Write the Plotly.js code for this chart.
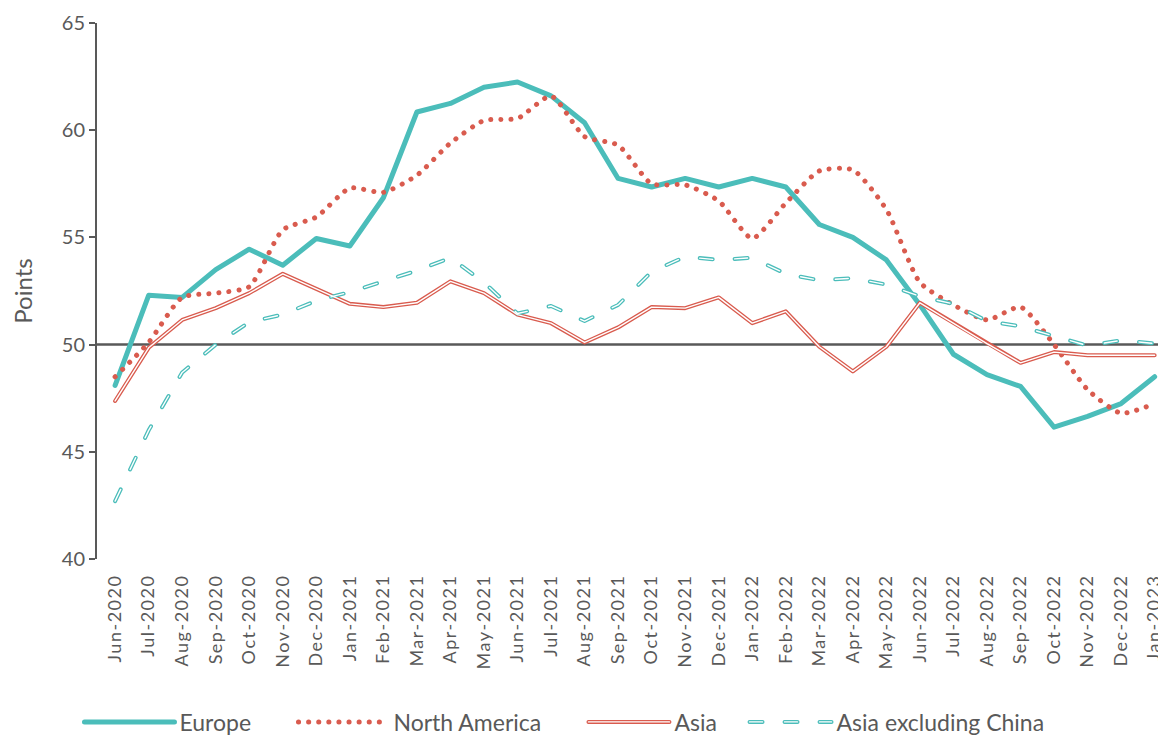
<!DOCTYPE html>
<html>
<head>
<meta charset="utf-8">
<script src="https://cdn.plot.ly/plotly-3.0.1.min.js"></script>
<style>
  html, body { margin: 0; padding: 0; background: #fff; }
  #chart { width: 1158px; height: 737px; }
  .scatterlayer .js-line { stroke-linecap: round; stroke-linejoin: round; }
  .infolayer path.js-line { stroke-linecap: round; }
  .xtick text { letter-spacing: 1.5px; }
</style>
</head>
<body>
<div id="chart"></div>
<script>
const months = ["Jun-2020","Jul-2020","Aug-2020","Sep-2020","Oct-2020","Nov-2020","Dec-2020",
  "Jan-2021","Feb-2021","Mar-2021","Apr-2021","May-2021","Jun-2021","Jul-2021","Aug-2021","Sep-2021",
  "Oct-2021","Nov-2021","Dec-2021","Jan-2022","Feb-2022","Mar-2022","Apr-2022","May-2022","Jun-2022",
  "Jul-2022","Aug-2022","Sep-2022","Oct-2022","Nov-2022","Dec-2022","Jan-2023"];

const europe = [48.1,52.3,52.2,53.5,54.45,53.7,54.95,54.6,56.85,60.85,61.25,62.0,62.25,61.6,60.35,57.75,
  57.35,57.75,57.35,57.75,57.35,55.6,55.0,53.95,51.85,49.55,48.6,48.05,46.15,46.65,47.25,48.5];

const northAmerica = [48.5,50.1,52.2,52.4,52.7,55.35,55.95,57.3,57.1,57.9,59.4,60.45,60.55,61.6,59.7,59.3,
  57.5,57.45,56.7,54.95,56.6,58.1,58.15,56.3,52.9,51.85,51.15,51.75,50.0,47.9,46.8,47.25];

const asia = [47.37,49.85,51.15,51.7,52.4,53.3,52.6,51.9,51.75,51.95,52.95,52.4,51.4,51.0,50.1,50.8,
  51.75,51.7,52.2,51.0,51.55,49.9,48.75,49.9,51.95,51.0,50.05,49.15,49.65,49.5,49.5,49.5];

const asiaExChina = [42.7,46.0,48.7,50.0,51.05,51.4,52.05,52.45,52.95,53.45,54.05,52.9,51.45,51.8,51.1,51.85,
  53.4,54.1,53.95,54.05,53.3,53.0,53.1,52.8,52.25,51.9,51.1,50.85,50.4,49.95,50.2,50.05];

const seriesNames = ["Europe","North America","Asia","Asia excluding China"];

const teal = "#4BBDBA";
const red = "#D95B4E";
const grey = "#595959";
const dashPattern = "13px,22px";

const traces = [
  {x: months, y: europe, name: seriesNames[0], type: "scatter", mode: "lines", legend: "legend",
   line: {color: teal, width: 5}},
  {x: months, y: northAmerica, name: seriesNames[1], type: "scatter", mode: "lines", legend: "legend2",
   line: {color: red, width: 5, dash: "0.1px,10px", shape: "spline", smoothing: 0.6}},
  {x: months, y: asia, name: seriesNames[2], type: "scatter", mode: "lines", legend: "legend3",
   line: {color: red, width: 4}},
  {x: months, y: asiaExChina, name: seriesNames[3], type: "scatter", mode: "lines", legend: "legend4",
   line: {color: teal, width: 4, dash: dashPattern}},
  {x: months, y: asia, name: " ", type: "scatter", mode: "lines", legend: "legend5",
   hoverinfo: "skip", line: {color: "#ffffff", width: 1.4}},
  {x: months, y: asiaExChina, name: " ", type: "scatter", mode: "lines", legend: "legend6",
   hoverinfo: "skip", line: {color: "#ffffff", width: 1.4, dash: dashPattern}}
];

function legendAt(xPaper, itemwidth) {
  return {orientation: "h", x: xPaper, xanchor: "left", y: -0.304, yanchor: "middle",
    font: {size: 23, color: grey}, itemwidth: itemwidth, bgcolor: "rgba(0,0,0,0)",
    borderwidth: 0};
}

const layout = {
  width: 1158, height: 737,
  margin: {l: 97, r: 0, t: 23, b: 178, autoexpand: false},
  paper_bgcolor: "#fff", plot_bgcolor: "#fff",
  font: {family: "Lato, 'Liberation Sans', sans-serif", color: grey},
  showlegend: true,
  legend: legendAt(-0.0165, 90),
  legend2: legendAt(0.1852, 90),
  legend3: legendAt(0.4585, 81),
  legend4: legendAt(0.6103, 82),
  legend5: legendAt(0.4585, 81),
  legend6: legendAt(0.6103, 82),
  xaxis: {type: "category", range: [-0.54, 31.1], showgrid: false, zeroline: false,
    showline: false, ticks: "", tickangle: -90, tickfont: {size: 18, color: grey},
    ticklabelstandoff: 11, automargin: false},
  yaxis: {range: [40, 65], dtick: 5, tick0: 40, showgrid: false, zeroline: false,
    showline: true, linecolor: grey, linewidth: 2, ticks: "outside", ticklen: 6,
    tickcolor: grey, tickwidth: 2, tickfont: {size: 20, color: grey},
    title: {text: "Points", font: {size: 24, color: grey}, standoff: 22}, automargin: false},
  shapes: [{type: "line", xref: "paper", x0: 0, x1: 1, yref: "y", y0: 50, y1: 50,
    line: {color: grey, width: 2.5}, layer: "below"}]
};

Plotly.newPlot("chart", traces, layout, {displayModeBar: false, staticPlot: true});
</script>
</body>
</html>
